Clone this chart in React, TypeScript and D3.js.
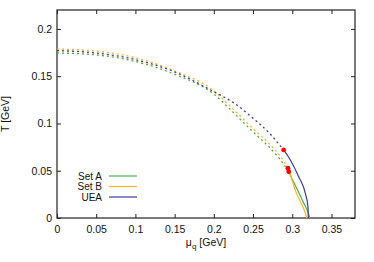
import { useEffect, useRef } from 'react'
import * as d3 from 'd3'

// phase boundary: crossover (dotted) up to the critical point, first order (solid) below
const uDotMu = [0, 0.05, 0.1, 0.15, 0.2, 0.225, 0.25, 0.27, 0.289]
const uDotT = [0.177, 0.1745, 0.1675, 0.1545, 0.1335, 0.122, 0.1055, 0.0905, 0.072]
const uSolMu = [0.289, 0.2976, 0.3082, 0.3167, 0.32, 0.3205]
const uSolT = [0.072, 0.0614, 0.0437, 0.026, 0.012, 0]

const aDotMu = [0, 0.05, 0.1, 0.15, 0.2, 0.225, 0.25, 0.27, 0.285, 0.2955]
const aDotT = [0.1745, 0.1725, 0.1655, 0.152, 0.131, 0.1115, 0.091, 0.0755, 0.0614, 0.049]
const aSolMu = [0.2955, 0.302, 0.308, 0.3145, 0.3189, 0.3225]
const aSolT = [0.049, 0.0375, 0.0275, 0.016, 0.0085, 0]

const bDotMu = [0, 0.05, 0.1, 0.15, 0.2, 0.225, 0.25, 0.27, 0.285, 0.2945]
const bDotT = [0.1787, 0.1765, 0.1695, 0.1555, 0.1345, 0.1148, 0.0945, 0.079, 0.065, 0.0526]
const bSolMu = [0.2945, 0.2995, 0.304, 0.31, 0.3155, 0.3185]
const bSolT = [0.0526, 0.041, 0.029, 0.018, 0.008, 0]

const cpMu = [0.289, 0.2945, 0.2955]
const cpT = [0.072, 0.0526, 0.049]

const labels = ['Set A', 'Set B', 'UEA']
const colors = ['#4cae4c', '#ffb226', '#3a3aa8']

const xTicks = [0, 0.05, 0.1, 0.15, 0.2, 0.25, 0.3, 0.35]
const yTicks = [0, 0.05, 0.1, 0.15, 0.2]

const W = 374, H = 262
const M = { top: 10, right: 19, bottom: 44, left: 57 }
const IW = W - M.left - M.right
const IH = H - M.top - M.bottom
const FONT = '"Liberation Sans", Arial, sans-serif'

export default function App() {
  const svgRef = useRef<SVGSVGElement>(null)

  useEffect(() => {
    const svg = d3.select(svgRef.current)
    svg.selectAll('*').remove()

    const x = d3.scaleLinear().domain([0, 0.38]).range([0, IW])
    const y = d3.scaleLinear().domain([0, 0.22]).range([IH, 0])
    const fmt = d3.format('~g')

    const g = svg.append('g').attr('transform', `translate(${M.left},${M.top})`)

    // axes with inward ticks on all four sides
    const styleAxis = (sel: any) => {
      sel.select('.domain').remove()
      sel.selectAll('line').attr('stroke', '#222')
      sel.selectAll('text').attr('font-size', 10.5).attr('font-family', FONT).attr('fill', '#111')
    }
    g.append('g').attr('transform', `translate(0,${IH})`)
      .call(d3.axisBottom(x).tickValues(xTicks).tickFormat(fmt as any).tickSize(-4).tickPadding(7.5))
      .call(styleAxis)
    g.append('g')
      .call(d3.axisLeft(y).tickValues(yTicks).tickFormat(fmt as any).tickSize(-4).tickPadding(5))
      .call(styleAxis)
    g.append('g')
      .call(d3.axisTop(x).tickValues(xTicks).tickFormat(() => '').tickSize(-4))
      .call(styleAxis)
    g.append('g').attr('transform', `translate(${IW},0)`)
      .call(d3.axisRight(y).tickValues(yTicks).tickFormat(() => '').tickSize(-4))
      .call(styleAxis)

    g.append('rect')
      .attr('x', 0).attr('y', 0).attr('width', IW).attr('height', IH)
      .attr('fill', 'none').attr('stroke', '#222').attr('stroke-width', 1.2)

    const line = d3.line<[number, number]>()
      .x((d) => x(d[0])).y((d) => y(d[1]))
      .curve(d3.curveMonotoneX)
    const pts = (mu: number[], t: number[]) => mu.map((m, i) => [m, t[i]] as [number, number])

    const curves = [
      { dot: pts(aDotMu, aDotT), sol: pts(aSolMu, aSolT), c: colors[0] },
      { dot: pts(bDotMu, bDotT), sol: pts(bSolMu, bSolT), c: colors[1] },
      { dot: pts(uDotMu, uDotT), sol: pts(uSolMu, uSolT), c: colors[2] },
    ]
    curves.forEach((cv) => {
      g.append('path').attr('d', line(cv.dot)).attr('fill', 'none')
        .attr('stroke', cv.c).attr('stroke-width', 1.3).attr('stroke-dasharray', '2 3')
      g.append('path').attr('d', line(cv.sol)).attr('fill', 'none')
        .attr('stroke', cv.c).attr('stroke-width', 1.2)
    })

    // critical points
    g.selectAll('circle.cp')
      .data(cpMu.map((m, i) => [m, cpT[i]]))
      .join('circle')
      .attr('cx', (d) => x(d[0])).attr('cy', (d) => y(d[1]))
      .attr('r', 2.4).attr('fill', '#ff0000')

    // legend
    const lg = g.append('g').attr('transform', `translate(${102 - M.left},${176 - M.top})`)
    labels.forEach((lab, i) => {
      lg.append('text').attr('x', 0).attr('y', i * 10.5 + 3.7)
        .attr('text-anchor', 'end').attr('font-size', 10).attr('font-family', FONT).attr('fill', '#111')
        .text(lab)
      lg.append('line').attr('x1', 7).attr('x2', 35).attr('y1', i * 10.5).attr('y2', i * 10.5)
        .attr('stroke', colors[i]).attr('stroke-width', 1.2)
    })

    // axis labels
    svg.append('text')
      .attr('transform', `translate(9,${M.top + IH / 2}) rotate(-90)`)
      .attr('text-anchor', 'middle').attr('font-size', 10.5).attr('font-family', FONT).attr('fill', '#111')
      .text('T [GeV]')

    const xl = svg.append('text')
      .attr('x', M.left + IW / 2).attr('y', 246)
      .attr('text-anchor', 'middle').attr('font-size', 10.5).attr('font-family', FONT).attr('fill', '#111')
    xl.append('tspan').text('μ')
    xl.append('tspan').attr('font-size', 8).attr('dy', 3).text('q')
    xl.append('tspan').attr('dy', -3).text(' [GeV]')
  }, [])

  return (
    <svg ref={svgRef} width={W} height={H} viewBox={`0 0 ${W} ${H}`}
      style={{ position: 'absolute', left: 0, top: 0, background: '#fff' }} />
  )
}
